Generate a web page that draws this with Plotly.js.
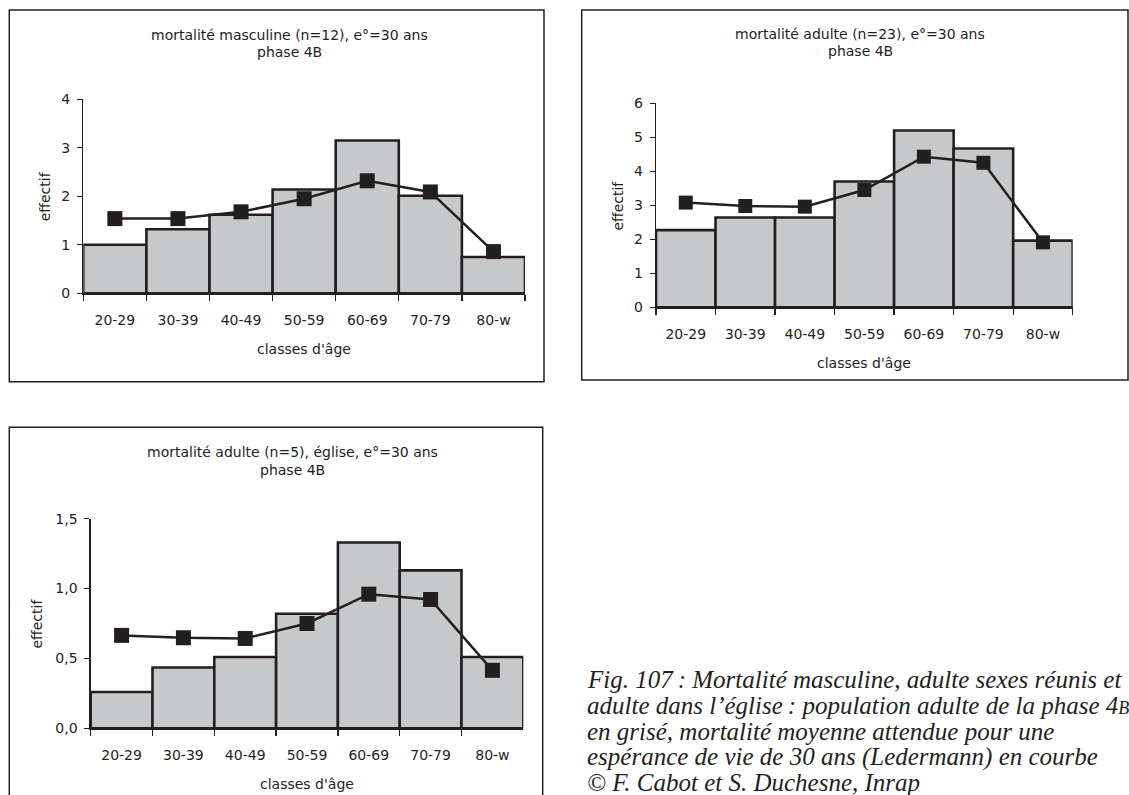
<!DOCTYPE html>
<html><head><meta charset="utf-8">
<script src="https://cdn.plot.ly/plotly-3.0.1.min.js"></script>
<style>html,body{margin:0;padding:0;background:#fff;}#chart{width:1129px;height:795px;}</style>
</head><body><div id="chart"></div>
<script>
// ---- data ----
const categories = ["20-29", "30-39", "40-49", "50-59", "60-69", "70-79", "80-w"];

const masculineBars = [1.0, 1.32, 1.62, 2.14, 3.15, 2.01, 0.75];
const masculineLine = [1.54, 1.54, 1.68, 1.95, 2.32, 2.09, 0.86];

const adulteBars = [2.27, 2.64, 2.64, 3.70, 5.20, 4.67, 1.96];
const adulteLine = [3.08, 2.98, 2.96, 3.45, 4.43, 4.25, 1.91];

const egliseBars = [0.26, 0.435, 0.51, 0.82, 1.33, 1.13, 0.51];
const egliseLine = [0.665, 0.648, 0.643, 0.75, 0.96, 0.922, 0.415];

const titles1 = ["mortalité masculine (n=12), e°=30 ans", "phase 4B"];
const titles2 = ["mortalité adulte (n=23), e°=30 ans", "phase 4B"];
const titles3 = ["mortalité adulte (n=5), église, e°=30 ans", "phase 4B"];
const xTitle = "classes d'âge";
const yTitle = "effectif";

const captionLines = [
  "Fig. 107\u202F: Mortalité masculine, adulte sexes réunis et",
  "adulte dans l’église\u202F: population adulte de la phase 4<span style='font-size:18px'>B</span>",
  "en grisé, mortalité moyenne attendue pour une",
  "espérance de vie de 30 ans (Ledermann) en courbe",
  "© F. Cabot et S. Duchesne, Inrap"
];

// ---- layout helpers ----
const W = 1129, H = 795;
const px = x => x / W;
const py = y => 1 - y / H;
const FONT = "DejaVu Sans, Liberation Sans, Arial, sans-serif";
const TXT = "#231f20";
const BAR_FILL = "#c7c8ca";

const panels = [
  {bars: masculineBars, line: masculineLine, range: [0, 4], dtick: 1, fmt: "d",
   box: [9.3, 10, 544, 381.7], plot: [83.3, 99.3, 525, 293.3],
   titles: titles1, tx: 289, ty: [35, 52.5], yTitleX: 45, msize: 15},
  {bars: adulteBars, line: adulteLine, range: [0, 6], dtick: 1, fmt: "d",
   box: [581.7, 10, 1128, 380], plot: [656, 103.3, 1072.7, 307.3],
   titles: titles2, tx: 860, ty: [34, 51.5], yTitleX: 618.3, msize: 14},
  {bars: egliseBars, line: egliseLine, range: [0, 1.5], dtick: 0.5, fmt: ".1f",
   box: [9.3, 427.3, 542.7, 800], plot: [90.7, 518.7, 523.3, 728.3],
   titles: titles3, tx: 292, ty: [452, 469.5], yTitleX: 36, msize: 15}
];

const data = [];
const layout = {
  width: W, height: H,
  margin: {l: 0, r: 0, t: 0, b: 0},
  paper_bgcolor: "#fff", plot_bgcolor: "rgba(0,0,0,0)",
  showlegend: false,
  bargap: 0,
  separators: ", ",
  font: {family: FONT, size: 14, color: TXT},
  shapes: [], annotations: []
};

panels.forEach((p, i) => {
  const n = i === 0 ? "" : String(i + 1);
  const xa = "x" + n, ya = "y" + n;
  data.push({
    type: "bar", x: categories, y: p.bars, xaxis: xa, yaxis: ya,
    marker: {color: BAR_FILL, line: {color: TXT, width: 2.6}},
    hoverinfo: "skip"
  });
  data.push({
    type: "scatter", mode: "lines+markers", x: categories, y: p.line, xaxis: xa, yaxis: ya,
    line: {color: TXT, width: 2.5},
    marker: {symbol: "square", size: p.msize, color: TXT, line: {width: 0}},
    cliponaxis: false, hoverinfo: "skip"
  });
  layout["xaxis" + n] = {
    domain: [px(p.plot[0]), px(p.plot[2])], anchor: ya,
    type: "category", range: [-0.5, 6.5],
    showline: true, linecolor: TXT, linewidth: 1.5,
    ticks: "outside", tickson: "boundaries", ticklen: 6, tickwidth: 1.3, tickcolor: TXT,
    ticklabelstandoff: 13,
    showgrid: false, zeroline: false, fixedrange: true,
    tickfont: {family: FONT, size: 14, color: TXT}
  };
  layout["yaxis" + n] = {
    domain: [py(p.plot[3]), py(p.plot[1])], anchor: xa,
    range: p.range, dtick: p.dtick, tick0: 0, tickformat: p.fmt,
    showline: true, linecolor: TXT, linewidth: 1.3,
    ticks: "outside", ticklen: 5, tickwidth: 1.3, tickcolor: TXT,
    ticklabelstandoff: 4,
    showgrid: false, zeroline: false, fixedrange: true,
    tickfont: {family: FONT, size: 14, color: TXT}
  };
  // frame
  layout.shapes.push({type: "rect", xref: "paper", yref: "paper",
    x0: px(p.box[0]), x1: px(p.box[2]), y0: py(p.box[3]), y1: py(p.box[1]),
    line: {color: TXT, width: 1.5}, fillcolor: "rgba(0,0,0,0)"});
  // titles
  p.titles.forEach((t, k) => layout.annotations.push({
    xref: "paper", yref: "paper", x: px(p.tx), y: py(p.ty[k]),
    xanchor: "center", yanchor: "middle", showarrow: false, text: t,
    font: {family: FONT, size: 14, color: TXT}
  }));
  // x axis title
  layout.annotations.push({
    xref: "paper", yref: "paper", x: px((p.plot[0] + p.plot[2]) / 2), y: py(p.plot[3] + 56),
    xanchor: "center", yanchor: "middle", showarrow: false, text: xTitle,
    font: {family: FONT, size: 14, color: TXT}
  });
  // y axis title
  layout.annotations.push({
    xref: "paper", yref: "paper", x: px(p.yTitleX), y: py((p.plot[1] + p.plot[3]) / 2),
    xanchor: "center", yanchor: "middle", showarrow: false, text: yTitle, textangle: -90,
    font: {family: FONT, size: 14, color: TXT}
  });
});

// caption
const capY = [679, 705, 731, 757, 782.5];
captionLines.forEach((t, k) => layout.annotations.push({
  xref: "paper", yref: "paper", x: px(585), y: py(capY[k]),
  xanchor: "left", yanchor: "middle", align: "left", showarrow: false,
  text: "<i>" + t + "</i>",
  font: {family: "Liberation Serif, Times New Roman, serif", size: 25, color: TXT}
}));

Plotly.newPlot("chart", data, layout, {staticPlot: true, displayModeBar: false});
</script>
</body></html>
